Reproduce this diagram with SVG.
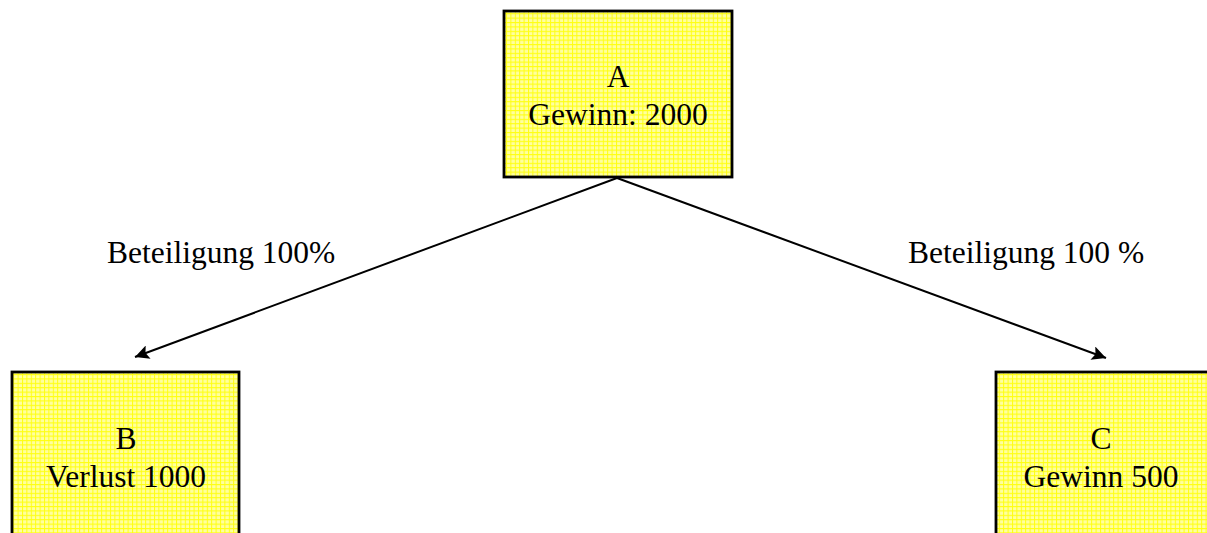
<svg xmlns="http://www.w3.org/2000/svg" width="1207" height="533" viewBox="0 0 1207 533">
  <style>
    .box { fill: url(#grid); stroke: #000; stroke-width: 2.8; }
    .lbl { font-family: "Liberation Serif", "Times New Roman", serif; font-size: 31.5px; fill: #000; text-anchor: middle; }
    .edge { stroke: #000; stroke-width: 2; fill: none; marker-end: url(#arrow); }
    .elbl { font-family: "Liberation Serif", "Times New Roman", serif; font-size: 31.5px; fill: #000; }
  </style>
  <defs>
    <pattern id="grid" width="4.4" height="4.4" patternUnits="userSpaceOnUse">
      <rect width="4.4" height="4.4" fill="#ffffa0"/>
      <path d="M0 0.5H4.4M0.5 0V4.4" stroke="#ffff10" stroke-width="1"/>
    </pattern>
    <marker id="arrow" viewBox="0 0 10 10" refX="10" refY="5" markerWidth="19" markerHeight="14" markerUnits="userSpaceOnUse" orient="auto">
      <path d="M0 0L10 5L0 10L2 5Z" fill="#000"/>
    </marker>
  </defs>
  <rect width="1207" height="533" fill="#fff"/>

  <g id="connectors">
    <line class="edge" x1="617" y1="178" x2="135" y2="357"/>
    <line class="edge" x1="617" y1="178" x2="1106" y2="358"/>
    <text class="elbl" x="107" y="263">Beteiligung 100%</text>
    <text class="elbl" x="908" y="263">Beteiligung 100 %</text>
  </g>

  <g id="node-a">
    <rect class="box" x="504" y="11" width="228" height="166"/>
    <text class="lbl" x="618" y="87">A</text>
    <text class="lbl" x="618" y="125">Gewinn: 2000</text>
  </g>

  <g id="node-b">
    <rect class="box" x="12" y="372" width="227" height="175"/>
    <text class="lbl" x="126" y="449">B</text>
    <text class="lbl" x="126" y="487">Verlust 1000</text>
  </g>

  <g id="node-c">
    <rect class="box" x="996" y="372" width="225" height="175"/>
    <text class="lbl" x="1101" y="449">C</text>
    <text class="lbl" x="1101" y="487">Gewinn 500</text>
  </g>
</svg>
